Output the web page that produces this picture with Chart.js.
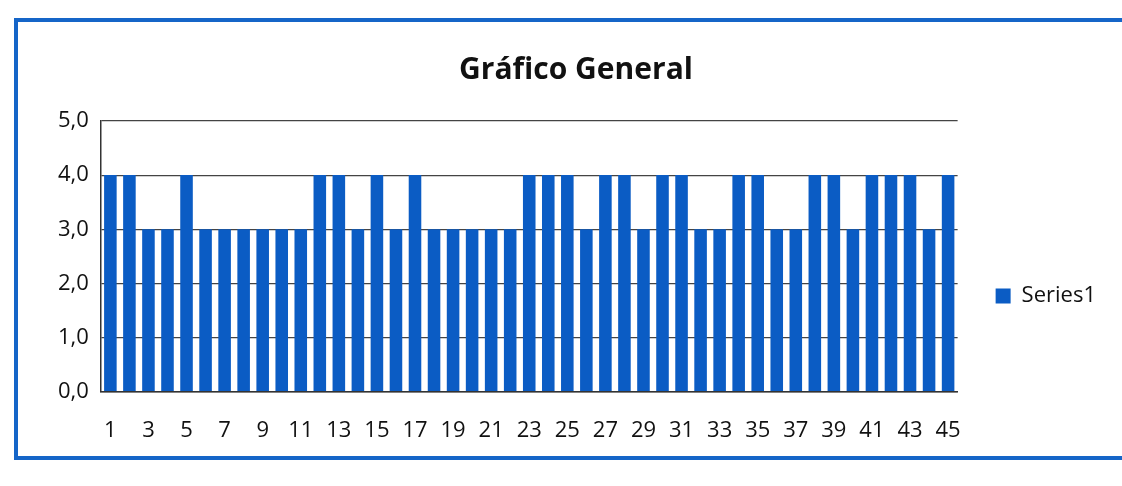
<!DOCTYPE html>
<html>
<head>
<meta charset="utf-8">
<script src="https://cdn.jsdelivr.net/npm/chart.js@4.4.0/dist/chart.umd.min.js"></script>
<style>
body{margin:0;background:#fff;width:1122px;height:486px;overflow:hidden;}
#frame{position:absolute;left:14px;top:18px;width:1110px;height:442px;border:4px solid #1565c8;border-right:none;box-sizing:border-box;}
#wrap{position:absolute;left:0;top:0;width:1106px;height:458px;}
</style>
</head>
<body>
<div id="frame"><div id="wrap"><canvas id="chart"></canvas></div></div>
<script>
// datos
let categories=[];
for(let i=1;i<=45;i++) categories.push(String(i));

let series1=[4,4,3,3,4,3,3,3,3,3,3,4,4,3,4,3,4,3,3,3,3,3,4,4,4,3,4,4,3,4,4,3,3,4,4,3,3,4,4,3,4,4,4,3,4];

let yTicks=[0,1,2,3,4,5];

let font="'Open Sans', sans-serif";

// mueve la leyenda un poco hacia abajo, como en el original
const legendShift={
id:"legendShift",
afterLayout(chart){
chart.legend.top+=46;
chart.legend.bottom+=46;
}
};

let ctx=document.getElementById("chart").getContext("2d");

let chart=new Chart(ctx,{

type:"bar",

data:{
labels:categories,
datasets:[{
label:"Series1",
data:series1,
backgroundColor:"#0b5cc4",
borderWidth:0,
barPercentage:0.66,
categoryPercentage:1
}]
},

options:{
responsive:true,
maintainAspectRatio:false,
animation:false,
layout:{padding:{left:28,right:18,top:8,bottom:10}},
plugins:{
title:{
display:true,
text:"Gráfico General",
color:"#111",
font:{family:font,size:30,weight:"bold"},
padding:{top:22,bottom:33}
},
legend:{
position:"right",
labels:{
color:"#111",
font:{family:font,size:22},
boxWidth:15,
boxHeight:15,
padding:38
}
},
tooltip:{enabled:false}
},
scales:{
x:{
grid:{display:false,drawTicks:false},
border:{display:true,color:"#333",width:1.5},
ticks:{
color:"#111",
font:{family:font,size:22},
autoSkip:false,
maxRotation:0,
padding:26,
callback:function(v,i){return i%2===0?categories[i]:"";}
}
},
y:{
min:0,
max:5,
afterBuildTicks:function(axis){axis.ticks=yTicks.map(v=>({value:v}));},
grid:{color:"#444",lineWidth:1.2,drawTicks:false},
border:{display:true,color:"#333",width:1.5},
ticks:{
color:"#111",
font:{family:font,size:22},
padding:12,
callback:function(v){return v.toFixed(1).replace(".",",");}
}
}
}
},

plugins:[legendShift]

});
</script>
</body>
</html>
